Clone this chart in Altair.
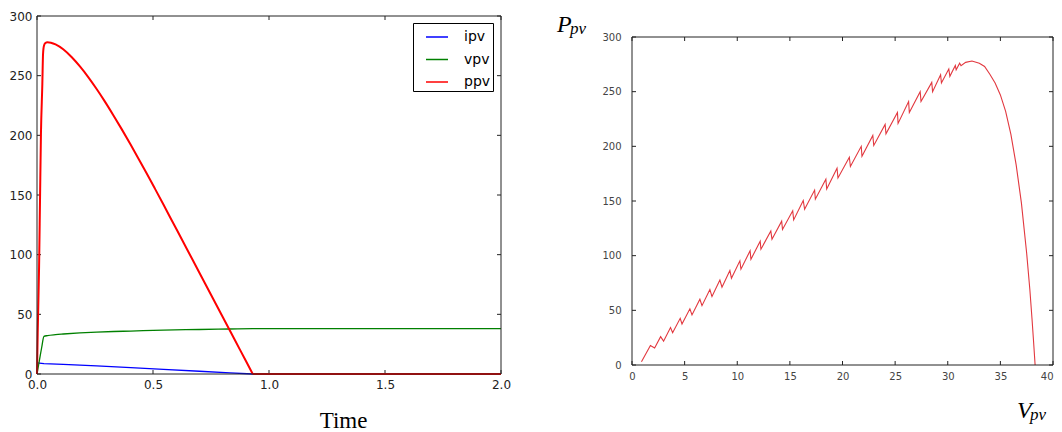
import altair as alt
import pandas as pd

# ---------------- left panel data (time series) ----------------
t_ipv = [0, 0.03, 0.113, 0.257, 0.404, 0.545, 0.7, 0.832, 0.93, 2.0]
ipv = [9.3, 8.7, 8.1, 6.8, 5.35, 3.9, 2.3, 1.0, 0, 0]

t_vpv = [0, 0.01, 0.02, 0.03, 0.045, 0.08, 0.113, 0.185, 0.257, 0.33, 0.404,
         0.545, 0.7, 0.832, 0.93, 2.0]
vpv = [0, 11, 22, 31.5, 32.2, 33.0, 33.5, 34.4, 35.1, 35.6, 36.0,
       36.8, 37.3, 37.7, 38.0, 38.0]

# power: rising edge + arc down to the zero crossing, then flat at zero
t_ppv = [0, 0.003, 0.009, 0.013, 0.017, 0.023, 0.026, 0.03, 0.036, 0.045, 0.06,
         0.08, 0.113, 0.15, 0.185, 0.22, 0.257, 0.29, 0.329, 0.365, 0.404, 0.44,
         0.473, 0.51, 0.545, 0.58, 0.65, 0.7, 0.75, 0.8, 0.85, 0.9, 0.93]
ppv = [0, 34, 90, 146, 201, 243, 268, 275, 277.3, 278, 277.6,
       276.2, 272.1, 265.4, 257.7, 249.0, 238.8, 229.1, 216.9, 205.2, 192.1, 179.6,
       168.0, 154.7, 142.0, 129.1, 103.3, 84.9, 66.4, 48.0, 29.5, 11.1, 0]
t_ppv_zero = [0.93, 2.0]
ppv_zero = [0, 0]

series_names = ["ipv", "vpv", "ppv"]
series_colors = ["#0000ff", "#008000", "#ff0000"]
left_xticks = [0.0, 0.5, 1.0, 1.5, 2.0]
left_yticks = [0, 50, 100, 150, 200, 250, 300]
left_xtitle = "Time"

# ---------------- right panel data (P-V trajectory) ----------------
v_pv = [0.9, 1.75, 2.15, 2.72, 3.0, 3.66, 3.86, 4.58, 4.75, 5.5, 5.7, 6.45, 6.65,
        7.4, 7.6, 8.35, 8.55, 9.3, 9.45, 10.25, 10.35, 11.22, 11.3, 12.18, 12.25,
        13.19, 13.3, 14.22, 14.3, 15.27, 15.36, 16.27, 16.4, 17.35, 17.42, 18.42,
        18.5, 19.48, 19.57, 20.65, 20.75, 21.78, 21.85, 22.88, 22.97, 24.05, 24.13,
        25.22, 25.28, 26.28, 26.35, 27.38, 27.46, 28.48, 28.56, 29.32, 29.4, 30.1,
        30.2, 30.72, 30.8, 31.13, 31.26, 31.7, 32.3, 33.0, 33.5, 34.0, 34.5, 35.0,
        35.5, 36.0, 36.5, 37.0, 37.5, 37.8, 38.0, 38.15, 38.3]
p_pv = [3, 17.8, 15.5, 25.9, 21.8, 34.2, 29.6, 42.7, 37.5, 51.4, 45.8, 60.1, 54.3,
        69.0, 62.6, 77.7, 71.1, 86.4, 79.3, 95.3, 87.6, 104.5, 96.7, 113.3, 105.9,
        122.5, 115, 131.6, 124, 141, 132.7, 150.5, 142.5, 160, 151.7, 170,
        161, 180, 171, 190, 181.6, 200, 191, 210, 200.8, 220, 211.5,
        231, 221, 241, 231, 250, 241, 258.5, 250, 265.5, 258, 270.7,
        264, 274, 270, 276, 273.7, 276.8, 278, 276, 273, 266, 258, 247,
        232, 211, 183, 148, 102, 69, 43, 22, 0]
right_xticks = [0, 5, 10, 15, 20, 25, 30, 35, 40]
right_yticks = [0, 50, 100, 150, 200, 250, 300]
right_labels = ["P", "pv", "V", "pv"]

# ---------------- layout constants ----------------
LW, LH = 464, 358          # left plot area
RW, RH = 421, 349          # right group (plot top sits RTOP below group top)
RTOP = 21
TICK = 4
FRAME = "#222222"
SERIF = "Liberation Serif"

# ======================= LEFT PANEL =======================
xL = alt.X("t:Q", scale=alt.Scale(domain=[0, 2], nice=False, zero=False),
           axis=alt.Axis(values=left_xticks, format=".1f", title=left_xtitle,
                         domain=False, ticks=False, grid=False, labelFlush=False,
                         labelFontSize=12, labelColor="#222", labelPadding=5,
                         titleFont=SERIF, titleFontSize=23, titleFontWeight="normal",
                         titleColor="black", titleX=306, titleY=53,
                         titleAlign="center", titleBaseline="alphabetic"))
yL = alt.Y("v:Q", scale=alt.Scale(domain=[0, 300], nice=False),
           axis=alt.Axis(values=left_yticks, title=None, domain=False, ticks=False,
                         grid=False, labelFlush=False, labelFontSize=12,
                         labelColor="#222", labelPadding=5, minExtent=0))

legend = alt.Legend(orient="none", legendX=376, legendY=7, title=None,
                    fillColor="white", strokeColor="black", padding=2,
                    symbolType="stroke", symbolSize=484, symbolStrokeWidth=1.5,
                    symbolOffset=10, labelFontSize=14, labelOffset=15,
                    rowPadding=3.5, labelFont="DejaVu Sans", labelColor="black",
                    cornerRadius=0)
color = alt.Color("s:N", scale=alt.Scale(domain=series_names, range=series_colors),
                  legend=legend)

def series_layer(tt, vv, name, width, interp="monotone"):
    df = pd.DataFrame({"t": tt, "v": vv, "s": name})
    return alt.Chart(df).mark_line(strokeWidth=width, interpolate=interp).encode(
        x=xL, y=yL, color=color)

l_ipv = series_layer(t_ipv, ipv, "ipv", 1.3, "linear")
l_vpv = series_layer(t_vpv, vpv, "vpv", 1.3)
l_ppv = series_layer(t_ppv, ppv, "ppv", 2.0)
l_ppv0 = series_layer(t_ppv_zero, ppv_zero, "ppv", 2.0, "linear")

lx = pd.DataFrame({"t": left_xticks})
ly = pd.DataFrame({"v": left_yticks})
lt_bottom = alt.Chart(lx).mark_rule(color=FRAME).encode(x=xL, y=alt.value(LH), y2=alt.value(LH - TICK))
lt_top = alt.Chart(lx).mark_rule(color=FRAME).encode(x=xL, y=alt.value(0), y2=alt.value(TICK))
lt_left = alt.Chart(ly).mark_rule(color=FRAME).encode(y=yL, x=alt.value(0), x2=alt.value(TICK))
lt_right = alt.Chart(ly).mark_rule(color=FRAME).encode(y=yL, x=alt.value(LW - TICK), x2=alt.value(LW))
l_frame = alt.Chart(pd.DataFrame({"a": [0]})).mark_rect(
    filled=False, stroke=FRAME, strokeWidth=1).encode(
    x=alt.datum(0), x2=alt.datum(2), y=alt.datum(0), y2=alt.datum(300))

left = alt.layer(lt_bottom, lt_top, lt_left, lt_right, l_ipv, l_vpv, l_ppv, l_ppv0,
                 l_frame).properties(width=LW, height=LH)

# ======================= RIGHT PANEL =======================
xR = alt.X("V:Q", scale=alt.Scale(domain=[0, 40], nice=False, zero=False),
           axis=alt.Axis(values=right_xticks, title=None, domain=False, ticks=False,
                         grid=False, labelFlush=False, labelFontSize=10,
                         labelColor="#444", labelPadding=6,
                         labelAlign=alt.condition("datum.value == 40",
                                                  alt.value("right"), alt.value("center"))))
yR = alt.Y("P:Q", scale=alt.Scale(domain=[0, 300], range=[RH, RTOP], nice=False),
           axis=alt.Axis(values=right_yticks, title=None, domain=False, ticks=False,
                         grid=False, labelFlush=False, labelFontSize=10,
                         labelColor="#444", labelPadding=11, minExtent=0))
df_r = pd.DataFrame({"V": v_pv, "P": p_pv, "i": list(range(len(v_pv)))})
r_line = alt.Chart(df_r).mark_line(color="#e2383f", strokeWidth=1.1).encode(
    x=xR, y=yR, order="i:Q")

rx = pd.DataFrame({"V": right_xticks})
ry = pd.DataFrame({"P": right_yticks})
rt_bottom = alt.Chart(rx).mark_rule(color=FRAME).encode(x=xR, y=alt.value(RH), y2=alt.value(RH - TICK))
rt_top = alt.Chart(rx).mark_rule(color=FRAME).encode(x=xR, y=alt.value(RTOP), y2=alt.value(RTOP + TICK))
rt_left = alt.Chart(ry).mark_rule(color=FRAME).encode(y=yR, x=alt.value(0), x2=alt.value(TICK))
rt_right = alt.Chart(ry).mark_rule(color=FRAME).encode(y=yR, x=alt.value(RW - TICK), x2=alt.value(RW))
r_frame = alt.Chart(pd.DataFrame({"a": [0]})).mark_rect(
    filled=False, stroke=FRAME, strokeWidth=1).encode(
    x=alt.datum(0), x2=alt.datum(40), y=alt.datum(0), y2=alt.datum(300))

one = pd.DataFrame({"a": [0]})
def label(txt, x, y, size):
    return alt.Chart(one).mark_text(text=txt, font=SERIF, fontStyle="italic",
                                    fontSize=size, align="left", baseline="alphabetic",
                                    color="black").encode(x=alt.value(x), y=alt.value(y))

r_P = label(right_labels[0], -75, 16, 24)
r_Ps = label(right_labels[1], -62, 18, 17)
r_V = label(right_labels[2], 385, 402, 24)
r_Vs = label(right_labels[3], 398, 404, 17)

right = alt.layer(rt_bottom, rt_top, rt_left, rt_right, r_line, r_frame,
                  r_P, r_Ps, r_V, r_Vs).properties(width=RW, height=RH)

chart = alt.hconcat(left, right, spacing=131, bounds="flush").properties(
    padding={"left": 1, "top": 2, "right": 0, "bottom": 0}
).configure(font="DejaVu Sans").configure_view(stroke="transparent", strokeWidth=0)

chart.save("out.html", embed_options={"renderer": "svg", "actions": False})
